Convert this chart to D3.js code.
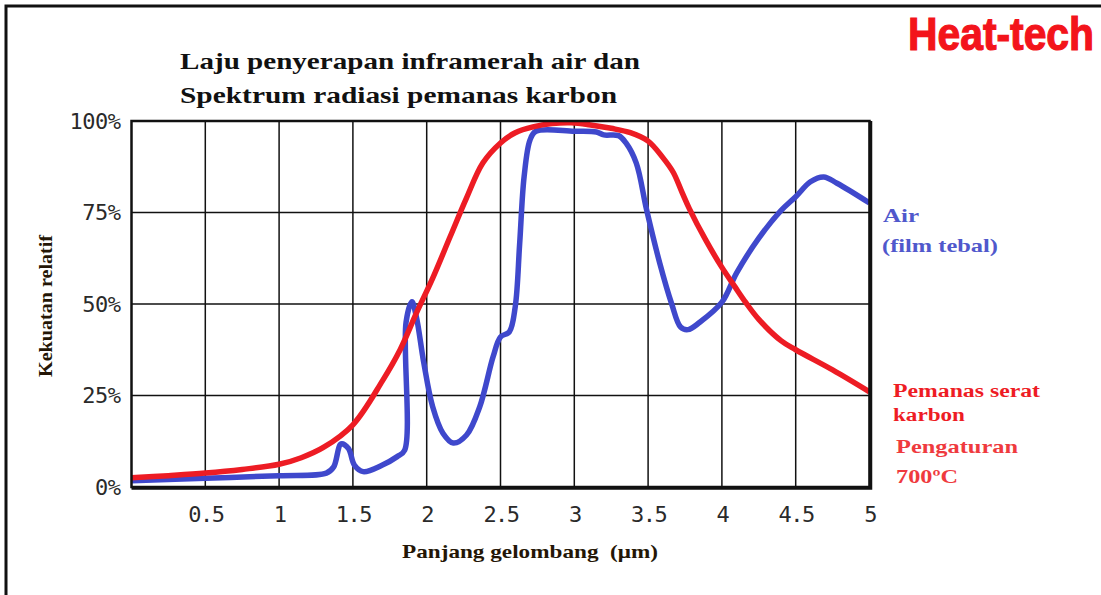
<!DOCTYPE html>
<html>
<head>
<meta charset="utf-8">
<script src="https://cdn.jsdelivr.net/npm/d3@7"></script>
<style>
  html, body { margin: 0; padding: 0; background: #fff; }
  svg { display: block; }
</style>
</head>
<body>
<div id="chart"></div>
<script>
// Air (film tebal) absorption, wavelength in um and percent
const airWl = [0, 0.5, 1.0, 1.32, 1.37, 1.42, 1.47, 1.51, 1.57, 1.7, 1.8, 1.85, 1.86, 1.9, 1.93, 1.98, 2.04, 2.11, 2.18, 2.27, 2.36, 2.45, 2.5, 2.56, 2.6, 2.63, 2.66, 2.7, 2.74, 3.0, 3.15, 3.2, 3.3, 3.35, 3.42, 3.49, 3.58, 3.66, 3.72, 3.77, 3.85, 4.0, 4.1, 4.25, 4.4, 4.5, 4.6, 4.69, 4.78, 5.0]
const airVal = [1.7, 2.4, 3.1, 3.8, 5.5, 11.8, 10.5, 6, 4.2, 6, 8.3, 10, 45, 50.6, 46.5, 34, 22, 14.7, 12, 14.2, 22, 35.6, 41, 42.4, 49.3, 66.6, 84.8, 94.8, 97.2, 97.2, 97, 96.2, 96, 94, 88.5, 75.7, 61, 50, 43.7, 43, 45, 50.5, 58.5, 68, 75.5, 79.3, 83.4, 84.7, 83, 77.6]

// Carbon fiber heater spectrum at 700C
const heaterWl = [0, 0.25, 0.5, 0.75, 1.0, 1.15, 1.3, 1.5, 1.7, 1.82, 1.93, 2.04, 2.16, 2.27, 2.38, 2.5, 2.6, 2.72, 2.85, 2.98, 3.1, 3.25, 3.38, 3.5, 3.6, 3.67, 3.73, 3.78, 3.89, 4.0, 4.09, 4.16, 4.25, 4.4, 4.5, 4.75, 5.0]
const heaterVal = [2.5, 3.1, 3.8, 4.8, 6.2, 8, 10.8, 17, 29, 37.5, 47.5, 57, 68.5, 79, 88.5, 94, 96.8, 98.4, 99.3, 99.5, 99, 98, 96.8, 94.5, 90, 86, 80.5, 76, 67.5, 60, 54.6, 50.5, 45.8, 40, 37.5, 32, 26]

const xTicks = [0.5, 1, 1.5, 2, 2.5, 3, 3.5, 4, 4.5, 5]
const xTickLabels = ["0.5", "1", "1.5", "2", "2.5", "3", "3.5", "4", "4.5", "5"]
const yTicks = [0, 25, 50, 75, 100]
const yTickLabels = ["0%", "25%", "50%", "75%", "100%"]

const width = 1101
const height = 595
const plot = { left: 131.5, right: 869.5, top: 121, bottom: 487 }

const serif = "'Liberation Serif', 'Times New Roman', serif"
const mono = "'DejaVu Sans Mono', monospace"

const svg = d3.select("#chart")
  .append("svg")
  .attr("width", width)
  .attr("height", height)
  .attr("viewBox", [0, 0, width, height])

const x = d3.scaleLinear().domain([0, 5]).range([plot.left, plot.right])
const y = d3.scaleLinear().domain([0, 100]).range([plot.bottom, plot.top])

// stretched bold serif text, the source picture is widened
function label(sel, txt, px, py, len, size, color) {
  return sel.append("text")
    .attr("x", px)
    .attr("y", py)
    .attr("font-family", serif)
    .attr("font-weight", "bold")
    .attr("font-size", size)
    .attr("fill", color)
    .attr("textLength", len)
    .attr("lengthAdjust", "spacingAndGlyphs")
    .text(txt)
}

// outer frame of the picture
svg.append("path")
  .attr("d", `M6,${height} L6,6 L${width},6`)
  .attr("fill", "none")
  .attr("stroke", "#111")
  .attr("stroke-width", 3)

// logo
svg.append("text")
  .attr("x", 908)
  .attr("y", 50)
  .attr("fill", "#f3141b")
  .attr("stroke", "#f3141b")
  .attr("stroke-width", 1.2)
  .attr("font-family", "'Liberation Sans Narrow', 'Arial Narrow', sans-serif")
  .attr("font-weight", "bold")
  .attr("font-size", 46)
  .attr("textLength", 186)
  .attr("lengthAdjust", "spacingAndGlyphs")
  .text("Heat-tech")

// title
label(svg, "Laju penyerapan inframerah air dan", 180, 69, 460, 24, "#111")
label(svg, "Spektrum radiasi pemanas karbon", 180, 103, 437, 24, "#111")

// grid
const g = svg.append("g")

g.selectAll(".vgrid")
  .data(xTicks.filter(d => d < 5))
  .enter()
  .append("line")
  .attr("x1", d => x(d)).attr("x2", d => x(d))
  .attr("y1", plot.top).attr("y2", plot.bottom)
  .attr("stroke", "#111")
  .attr("stroke-width", 1.5)

g.selectAll(".hgrid")
  .data(yTicks.filter(d => d > 0 && d < 100))
  .enter()
  .append("line")
  .attr("x1", plot.left).attr("x2", plot.right)
  .attr("y1", d => y(d)).attr("y2", d => y(d))
  .attr("stroke", "#111")
  .attr("stroke-width", 1.5)

// curves
const line = d3.line()
  .x(d => x(d[0]))
  .y(d => y(d[1]))
  .curve(d3.curveCatmullRom.alpha(0.5))

g.append("path")
  .datum(airWl.map((w, i) => [w, airVal[i]]))
  .attr("fill", "none")
  .attr("stroke", "#3f48cc")
  .attr("stroke-width", 5.5)
  .attr("stroke-linejoin", "round")
  .attr("d", line)

g.append("path")
  .datum(heaterWl.map((w, i) => [w, heaterVal[i]]))
  .attr("fill", "none")
  .attr("stroke", "#ed1c24")
  .attr("stroke-width", 5.5)
  .attr("stroke-linejoin", "round")
  .attr("d", line)

// plot frame
g.append("rect")
  .attr("x", plot.left)
  .attr("y", plot.top)
  .attr("width", plot.right - plot.left)
  .attr("height", plot.bottom - plot.top)
  .attr("fill", "none")
  .attr("stroke", "#111")
  .attr("stroke-width", 2.5)

g.append("path")
  .attr("d", `M${plot.left},${plot.bottom + 1} H${plot.right + 1} V${plot.top}`)
  .attr("fill", "none")
  .attr("stroke", "#111")
  .attr("stroke-width", 3.5)

// axes
const xAxis = svg.append("g")
  .attr("transform", `translate(0,${plot.bottom})`)
  .call(d3.axisBottom(x).tickValues(xTicks).tickSize(0).tickPadding(19)
    .tickFormat((d, i) => xTickLabels[i]))
xAxis.select(".domain").remove()
xAxis.selectAll("text")
  .attr("font-family", mono)
  .attr("font-size", 22)
  .attr("letter-spacing", -1.5)
  .attr("fill", "#2a2a2a")

const yAxis = svg.append("g")
  .attr("transform", `translate(${plot.left},0)`)
  .call(d3.axisLeft(y).tickValues(yTicks).tickSize(0).tickPadding(11)
    .tickFormat((d, i) => yTickLabels[i]))
yAxis.select(".domain").remove()
yAxis.selectAll("text")
  .attr("font-family", mono)
  .attr("font-size", 22)
  .attr("letter-spacing", -0.5)
  .attr("fill", "#2a2a2a")

// axis titles
label(svg, "Kekuatan relatif", 0, 0, 142, 19, "#241606")
  .attr("x", -377)
  .attr("y", 52)
  .attr("transform", "rotate(-90)")

label(svg, "Panjang gelombang  (\u03bcm)", 402, 558, 256, 19, "#241606")
  .attr("xml:space", "preserve")

// series labels
label(svg, "Air", 883, 222, 36, 19, "#5058cc")
label(svg, "(film tebal)", 882, 252, 116, 19, "#5058cc")

label(svg, "Pemanas serat", 893, 397, 147, 18, "#ee1c24")
label(svg, "karbon", 893, 421, 72, 18, "#ee1c24")

label(svg, "Pengaturan", 896, 453, 122, 19, "#ef3a3e")
label(svg, "700\u00baC", 896, 483, 62, 19, "#ef3a3e")
</script>
</body>
</html>
